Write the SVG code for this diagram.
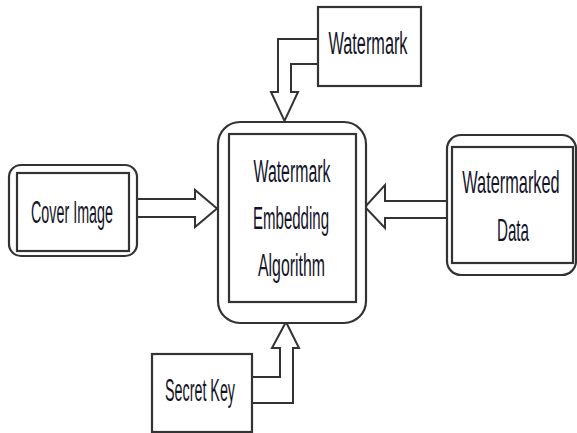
<svg xmlns="http://www.w3.org/2000/svg" width="577" height="433" viewBox="0 0 577 433">
<style>
.box{fill:#fff;stroke:#333;stroke-width:2.2}
.inner{fill:none;stroke:#333;stroke-width:2.2}
.conn{fill:#fff;stroke:#333;stroke-width:2;stroke-linejoin:miter}
.t{font-family:"Liberation Sans",Arial,sans-serif;font-size:31px;fill:#141428;text-anchor:middle}
</style>
<rect width="577" height="433" fill="#fff"/>
<g id="connectors">
<path class="conn" d="M137,199 H195 V190 L217,208.5 L195,227 V217 H137"/>
<path class="conn" d="M447,201 H385 V185 L365,207 L385,228 V218 H447"/>
<path class="conn" d="M318,39 H278 V92 H271 L284.5,121 L298,92 H291 V64 H318"/>
<path class="conn" d="M252,403 H293 V348 H299 L286,322 L272,348 H280 V377 H252"/>
</g>
<g id="cover-image">
<rect class="box" x="9" y="165" width="128" height="91" rx="12"/>
<rect class="inner" x="17" y="173" width="112" height="78"/>
<text class="t" x="72" y="223" textLength="82" lengthAdjust="spacingAndGlyphs">Cover Image</text>
</g>
<g id="embedding">
<rect class="box" x="218" y="122" width="148" height="201" rx="22"/>
<rect class="inner" x="229" y="134" width="127" height="168"/>
<text class="t" x="292" y="182" textLength="77" lengthAdjust="spacingAndGlyphs">Watermark</text>
<text class="t" x="291" y="229" textLength="76" lengthAdjust="spacingAndGlyphs">Embedding</text>
<text class="t" x="291.5" y="276" textLength="67" lengthAdjust="spacingAndGlyphs">Algorithm</text>
</g>
<g id="watermarked-data">
<rect class="box" x="447" y="135" width="129" height="140" rx="14"/>
<rect class="inner" x="452" y="147" width="121" height="116"/>
<text class="t" transform="translate(511,193) scale(0.527,1)">Watermarked</text>
<text class="t" transform="translate(513,241) scale(0.49,1)">Data</text>
</g>
<g id="watermark">
<rect class="box" x="318" y="7" width="103" height="79"/>
<text class="t" x="368" y="54" textLength="79" lengthAdjust="spacingAndGlyphs">Watermark</text>
</g>
<g id="secret-key">
<rect class="box" x="152" y="354" width="100" height="78"/>
<text class="t" x="200" y="401" textLength="70" lengthAdjust="spacingAndGlyphs">Secret Key</text>
</g>
</svg>
